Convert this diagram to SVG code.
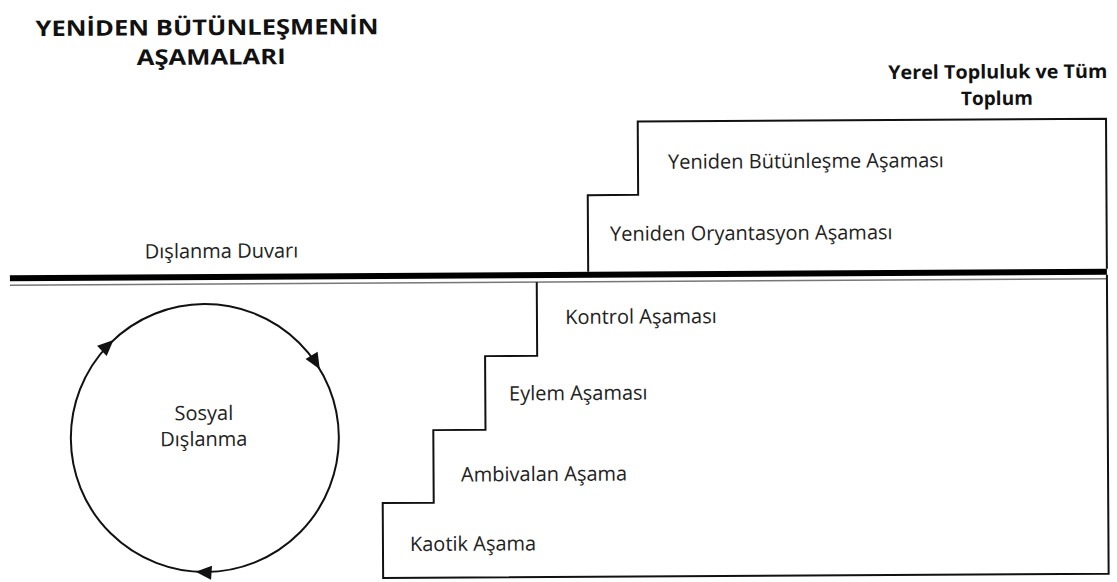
<svg xmlns="http://www.w3.org/2000/svg" xmlns:xlink="http://www.w3.org/1999/xlink" width="1117" height="582" viewBox="0 0 1117 582">
  <style>
    .t { font-family: "Open Sans", "Noto Sans", "DejaVu Sans", sans-serif; font-size: 20px; fill: #222; }
    .b { font-family: "Open Sans", "Noto Sans", "DejaVu Sans", sans-serif; font-weight: bold; fill: #111; }
    .ln { fill: none; stroke: #111; stroke-width: 2; stroke-linejoin: miter; }
    .ah { fill: #111; }
  </style>
  <defs>
    <path id="ah" d="M0,0 L-16,-7 L-16,7 Z"/>
  </defs>
  <rect x="0" y="0" width="1117" height="582" fill="#fff"/>
  <g transform="rotate(-0.33 558 291)">
    <g id="title">
      <text class="b" font-size="21.5" text-anchor="middle"><tspan x="208.5" y="33" textLength="343" lengthAdjust="spacingAndGlyphs">YENİDEN BÜTÜNLEŞMENİN</tspan><tspan x="212.5" y="62.5" textLength="149" lengthAdjust="spacingAndGlyphs">AŞAMALARI</tspan></text>
    </g>
    <g id="society-label">
      <text class="b" font-size="19" text-anchor="middle"><tspan x="999" y="81" textLength="219" lengthAdjust="spacingAndGlyphs">Yerel Topluluk ve Tüm</tspan><tspan x="998" y="107.5">Toplum</tspan></text>
    </g>
    <g id="wall">
      <line x1="10" y1="275" x2="1107" y2="275" stroke="#000" stroke-width="6"/>
      <line x1="10" y1="282" x2="1107" y2="282" stroke="#777" stroke-width="1.5"/>
      <text class="t" x="145" y="256">Dışlanma Duvarı</text>
    </g>
    <g id="upper-stages">
      <path class="ln" d="M588.3,272 V195.3 H638.7 V122 H1107 V272"/>
      <text class="t" x="668.8" y="169.4">Yeniden Bütünleşme Aşaması</text>
      <text class="t" x="610.3" y="241.1">Yeniden Oryantasyon Aşaması</text>
    </g>
    <g id="lower-stages">
      <path class="ln" d="M536.8,282 V355.7 H484.7 V429.4 H432.5 V502.1 H381.5 V577 H1107 V278"/>
      <text class="t" x="565" y="324">Kontrol Aşaması</text>
      <text class="t" x="508.4" y="400.1">Eylem Aşaması</text>
      <text class="t" x="460" y="480.9">Ambivalan Aşama</text>
      <text class="t" x="408.5" y="550.2">Kaotik Aşama</text>
    </g>
    <g id="social-exclusion">
      <text class="t" text-anchor="middle"><tspan x="203.2" y="418">Sosyal</tspan><tspan x="203" y="444">Dışlanma</tspan></text>
    </g>
    <g id="connectors">
      <circle cx="204" cy="436" r="134" fill="none" stroke="#111" stroke-width="2"/>
      <use href="#ah" class="ah" transform="rotate(-132.6 204 436) translate(338 436) rotate(90)"/>
      <use href="#ah" class="ah" transform="rotate(-30.6 204 436) translate(338 436) rotate(90)"/>
      <use href="#ah" class="ah" transform="rotate(94.3 204 436) translate(338 436) rotate(90)"/>
    </g>
  </g>
</svg>
